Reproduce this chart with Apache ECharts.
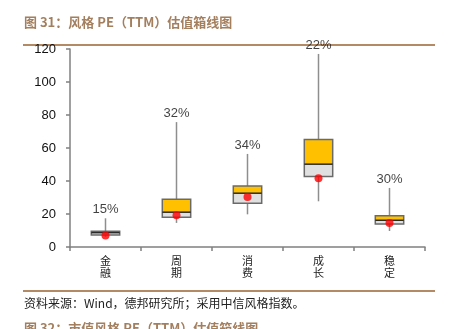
<!DOCTYPE html>
<html>
<head>
<meta charset="utf-8">
<script src="https://cdn.jsdelivr.net/npm/echarts@6/dist/echarts.min.js"></script>
<style>
html,body{margin:0;padding:0;background:#fff;}
#c{width:457px;height:329px;}
</style>
</head>
<body>
<div id="c"></div>
<script>
var categories = ['金融', '周期', '消费', '成长', '稳定'];
var lows = [6.2, 14.6, 19.8, 27.7, 9.7];
var q1s = [7.3, 18.0, 26.5, 42.7, 14.0];
var medians = [8.7, 21.1, 32.6, 50.2, 16.2];
var q3s = [9.5, 29.0, 37.0, 65.1, 19.0];
var highs = [17.4, 75.7, 56.4, 117.0, 35.8];
var currents = [6.9, 19.2, 30.3, 41.7, 14.6];
var percentiles = ['15%', '32%', '34%', '22%', '30%'];
var yMin = 0, yMax = 120, yStep = 20;

var chart = echarts.init(document.getElementById('c'), null, {renderer: 'canvas'});
var boxData = categories.map(function (c, i) {
  return [i, lows[i], q1s[i], medians[i], q3s[i], highs[i]];
});
var cjk = '"Noto Sans CJK SC", sans-serif';
var lineColor = '#b48a66';
var option = {
  animation: false,
  backgroundColor: '#fff',
  grid: {left: 70, right: 32, top: 49, bottom: 82},
  xAxis: {
    type: 'category',
    data: categories,
    axisLine: {lineStyle: {color: '#808080', width: 1.5}},
    axisTick: {show: true, length: 4, alignWithLabel: false, lineStyle: {color: '#808080', width: 1.5}},
    axisLabel: {
      margin: 8,
      fontFamily: cjk, fontSize: 11, color: '#222', lineHeight: 12,
      formatter: function (v) { return v.split('').join('\n'); }
    }
  },
  yAxis: {
    type: 'value', min: yMin, max: yMax, interval: yStep,
    splitLine: {show: false},
    axisLine: {show: true, lineStyle: {color: '#808080', width: 1.5}},
    axisTick: {show: true, length: 4, lineStyle: {color: '#808080', width: 1.5}},
    axisLabel: {margin: 14, fontFamily: 'Liberation Sans, Arial', fontSize: 13, color: '#111'}
  },
  series: [
    {
      type: 'custom',
      data: boxData,
      z: 2,
      renderItem: function (params, api) {
        var idx = api.value(0);
        var pLow = api.coord([idx, api.value(1)]);
        var pQ1 = api.coord([idx, api.value(2)]);
        var pMed = api.coord([idx, api.value(3)]);
        var pQ3 = api.coord([idx, api.value(4)]);
        var pHigh = api.coord([idx, api.value(5)]);
        var bw = api.size([1, 0])[0] * 0.4;
        var x0 = pMed[0] - bw / 2;
        return {
          type: 'group',
          children: [
            {type: 'line', shape: {x1: pLow[0], y1: pLow[1], x2: pHigh[0], y2: pHigh[1]},
             style: {stroke: '#8e8e8e', lineWidth: 1.5}},
            {type: 'rect', shape: {x: x0, y: pMed[1], width: bw, height: pQ1[1] - pMed[1]},
             style: {fill: '#e0e0e0', stroke: null}},
            {type: 'rect', shape: {x: x0, y: pQ3[1], width: bw, height: pMed[1] - pQ3[1]},
             style: {fill: '#ffc000', stroke: null}},
            {type: 'rect', shape: {x: x0, y: pQ3[1], width: bw, height: pQ1[1] - pQ3[1]},
             style: {fill: 'none', stroke: '#6a6a6a', lineWidth: 1.5}},
            {type: 'line', shape: {x1: x0, y1: pMed[1], x2: x0 + bw, y2: pMed[1]},
             style: {stroke: '#2a2a2a', lineWidth: 1.5}}
          ]
        };
      }
    },
    {
      type: 'scatter',
      data: currents.map(function (v, i) { return [i, v]; }),
      symbol: 'circle', symbolSize: 8, z: 5,
      itemStyle: {color: '#ff0000'}
    },
    {
      type: 'scatter',
      data: highs.map(function (v, i) { return [i, v]; }),
      symbolSize: 0, z: 6,
      itemStyle: {color: 'transparent'},
      label: {
        show: true, position: 'top', distance: 2,
        fontFamily: 'Liberation Sans, Arial', fontSize: 13, color: '#111',
        formatter: function (p) { return percentiles[p.dataIndex]; }
      }
    }
  ],
  graphic: [
    {type: 'text', left: 24, top: 16,
     style: {text: '图 31：风格 PE（TTM）估值箱线图', fill: '#a47f5e', font: 'bold 13px ' + cjk}},
    {type: 'rect', shape: {x: 23, y: 44, width: 412, height: 2}, style: {fill: lineColor}},
    {type: 'rect', shape: {x: 23, y: 290, width: 412, height: 2}, style: {fill: lineColor}},
    {type: 'text', left: 24, top: 297,
     style: {text: '资料来源：Wind，德邦研究所；采用中信风格指数。', fill: '#222', font: '12px ' + cjk}},
    {type: 'text', left: 24, top: 322,
     style: {text: '图 32：市值风格 PE（TTM）估值箱线图', fill: '#a47f5e', font: 'bold 13px ' + cjk}}
  ]
};
chart.setOption(option);
</script>
</body>
</html>
